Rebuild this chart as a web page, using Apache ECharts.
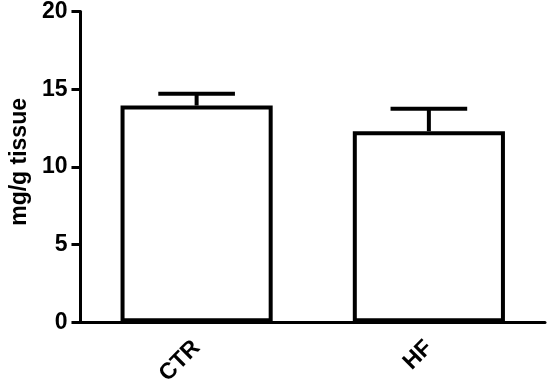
<!DOCTYPE html>
<html><head><meta charset="utf-8">
<script src="https://cdn.jsdelivr.net/npm/echarts@6/dist/echarts.min.js"></script>
<style>html,body{margin:0;padding:0;background:#fff}#c{width:550px;height:388px}</style>
</head><body><div id="c"></div>
<script>
var categories = ['CTR', 'HF'];
var means = [13.95, 12.3];
var errors = [0.75, 1.45];
var yTicks = [0, 5, 10, 15, 20];

var chart = echarts.init(document.getElementById('c'), null, {renderer: 'canvas'});
var font = '"Liberation Sans", Arial, sans-serif';
chart.setOption({
  animation: false,
  grid: {left: 77, right: 5, top: 11, bottom: 65},
  xAxis: {
    type: 'category', data: categories,
    axisLine: {lineStyle: {color: '#000', width: 3}},
    axisTick: {alignWithLabel: true, length: 9, lineStyle: {color: '#000', width: 3}},
    axisLabel: {rotate: 45, margin: 22, color: '#000', fontSize: 23, fontWeight: 'bold', fontFamily: font}
  },
  yAxis: {
    type: 'value', min: 0, max: 20, interval: 5,
    name: 'mg/g tissue', nameLocation: 'middle', nameGap: 48,
    nameTextStyle: {color: '#000', fontSize: 23, fontWeight: 'bold', fontFamily: font, padding: [0, 0, 0, 10]},
    axisLine: {show: true, lineStyle: {color: '#000', width: 3}},
    axisTick: {show: true, length: 9, lineStyle: {color: '#000', width: 3}},
    axisLabel: {margin: 13, color: '#000', fontSize: 23, fontWeight: 'bold', fontFamily: font,
      formatter: function (v) { return yTicks.indexOf(v) >= 0 ? String(v) : ''; }},
    splitLine: {show: false}
  },
  series: [{
    type: 'bar', data: means, barWidth: '65.5%',
    itemStyle: {color: '#fff', borderColor: '#000', borderWidth: 4}
  }, {
    type: 'custom',
    data: means.map(function (m, i) { return [i, m, m + errors[i]]; }),
    renderItem: function (params, api) {
      var i = api.value(0);
      var lo = api.coord([i, api.value(1)]);
      var hi = api.coord([i, api.value(2)]);
      var half = api.size([1, 0])[0] * 0.165;
      var s = {stroke: '#000', lineWidth: 4};
      return {type: 'group', children: [
        {type: 'line', shape: {x1: lo[0], y1: lo[1], x2: hi[0], y2: hi[1]}, style: s},
        {type: 'line', shape: {x1: hi[0] - half, y1: hi[1], x2: hi[0] + half, y2: hi[1]}, style: s}
      ]};
    },
    z: 3
  }]
});
</script></body></html>
